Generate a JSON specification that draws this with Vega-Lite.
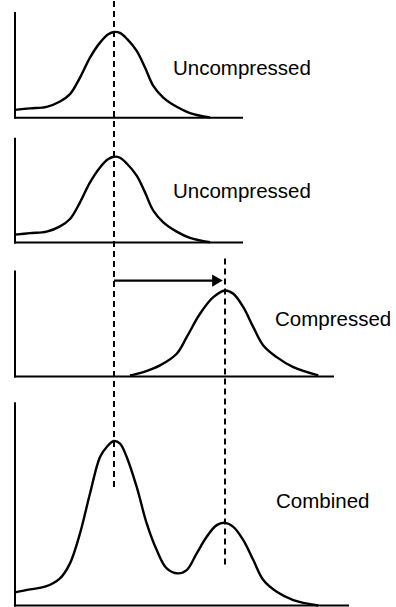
{
  "$schema": "https://vega.github.io/schema/vega-lite/v6.json",
  "width": 396,
  "height": 607,
  "autosize": {"type": "fit", "contains": "padding"},
  "padding": 0,
  "background": "white",
  "config": {"view": {"stroke": null}, "axis": {"disable": true}},
  "datasets": {
    "curves": [
      {"c": "p1", "x": 0, "y": 4.98}, {"c": "p1", "x": 0.75, "y": 4.995}, {"c": "p1", "x": 1.585, "y": 5.01}, {"c": "p1", "x": 2.25, "y": 5.063}, {"c": "p1", "x": 2.75, "y": 5.137}, {"c": "p1", "x": 3.25, "y": 5.303}, {"c": "p1", "x": 3.75, "y": 5.503}, {"c": "p1", "x": 4.25, "y": 5.653}, {"c": "p1", "x": 4.665, "y": 5.737}, {"c": "p1", "x": 4.95, "y": 5.76}, {"c": "p1", "x": 5.25, "y": 5.75}, {"c": "p1", "x": 5.6, "y": 5.69}, {"c": "p1", "x": 6.085, "y": 5.57}, {"c": "p1", "x": 6.5, "y": 5.403}, {"c": "p1", "x": 6.915, "y": 5.22}, {"c": "p1", "x": 7.415, "y": 5.103}, {"c": "p1", "x": 8.085, "y": 5.01}, {"c": "p1", "x": 8.75, "y": 4.947}, {"c": "p1", "x": 9.75, "y": 4.903},
      {"c": "p2", "x": 0, "y": 3.73}, {"c": "p2", "x": 0.75, "y": 3.745}, {"c": "p2", "x": 1.585, "y": 3.76}, {"c": "p2", "x": 2.25, "y": 3.813}, {"c": "p2", "x": 2.75, "y": 3.887}, {"c": "p2", "x": 3.25, "y": 4.053}, {"c": "p2", "x": 3.75, "y": 4.253}, {"c": "p2", "x": 4.25, "y": 4.403}, {"c": "p2", "x": 4.665, "y": 4.487}, {"c": "p2", "x": 4.95, "y": 4.51}, {"c": "p2", "x": 5.25, "y": 4.5}, {"c": "p2", "x": 5.6, "y": 4.44}, {"c": "p2", "x": 6.085, "y": 4.32}, {"c": "p2", "x": 6.5, "y": 4.153}, {"c": "p2", "x": 6.915, "y": 3.97}, {"c": "p2", "x": 7.415, "y": 3.853}, {"c": "p2", "x": 8.085, "y": 3.76}, {"c": "p2", "x": 8.75, "y": 3.697}, {"c": "p2", "x": 9.75, "y": 3.653},
      {"c": "p3", "x": 5.75, "y": 2.32}, {"c": "p3", "x": 6.415, "y": 2.353}, {"c": "p3", "x": 7.25, "y": 2.42}, {"c": "p3", "x": 8.085, "y": 2.537}, {"c": "p3", "x": 8.585, "y": 2.703}, {"c": "p3", "x": 9.25, "y": 2.937}, {"c": "p3", "x": 9.915, "y": 3.103}, {"c": "p3", "x": 10.5, "y": 3.17}, {"c": "p3", "x": 10.915, "y": 3.137}, {"c": "p3", "x": 11.415, "y": 3.003}, {"c": "p3", "x": 11.915, "y": 2.803}, {"c": "p3", "x": 12.415, "y": 2.62}, {"c": "p3", "x": 13.085, "y": 2.503}, {"c": "p3", "x": 13.915, "y": 2.403}, {"c": "p3", "x": 15.165, "y": 2.32},
      {"c": "p4", "x": 0, "y": 0.147}, {"c": "p4", "x": 0.75, "y": 0.177}, {"c": "p4", "x": 1.5, "y": 0.203}, {"c": "p4", "x": 2.25, "y": 0.287}, {"c": "p4", "x": 2.75, "y": 0.437}, {"c": "p4", "x": 3.25, "y": 0.737}, {"c": "p4", "x": 3.75, "y": 1.137}, {"c": "p4", "x": 4.25, "y": 1.503}, {"c": "p4", "x": 4.585, "y": 1.603}, {"c": "p4", "x": 4.95, "y": 1.663}, {"c": "p4", "x": 5.25, "y": 1.637}, {"c": "p4", "x": 5.585, "y": 1.503}, {"c": "p4", "x": 6.085, "y": 1.203}, {"c": "p4", "x": 6.585, "y": 0.837}, {"c": "p4", "x": 7.085, "y": 0.57}, {"c": "p4", "x": 7.585, "y": 0.387}, {"c": "p4", "x": 8.135, "y": 0.337}, {"c": "p4", "x": 8.585, "y": 0.37}, {"c": "p4", "x": 9.085, "y": 0.537}, {"c": "p4", "x": 9.585, "y": 0.703}, {"c": "p4", "x": 10.085, "y": 0.82}, {"c": "p4", "x": 10.5, "y": 0.843}, {"c": "p4", "x": 10.915, "y": 0.803}, {"c": "p4", "x": 11.415, "y": 0.67}, {"c": "p4", "x": 11.915, "y": 0.47}, {"c": "p4", "x": 12.415, "y": 0.27}, {"c": "p4", "x": 13.085, "y": 0.153}, {"c": "p4", "x": 13.915, "y": 0.07}, {"c": "p4", "x": 15.165, "y": 0.015}
    ],
    "axes": [
      {"x": 0, "x2": 0, "y": 5.95, "y2": 4.9},
      {"x": 0, "x2": 11.35, "y": 4.9, "y2": 4.9},
      {"x": 0, "x2": 0, "y": 4.69, "y2": 3.65},
      {"x": 0, "x2": 11.35, "y": 3.65, "y2": 3.65},
      {"x": 0, "x2": 0, "y": 3.36, "y2": 2.31},
      {"x": 0, "x2": 15.9, "y": 2.31, "y2": 2.31},
      {"x": 0, "x2": 0, "y": 2.04, "y2": 0.015},
      {"x": 0, "x2": 16.65, "y": 0.015, "y2": 0.015}
    ],
    "guides": [
      {"x": 4.95, "y": 6.07, "y2": 1.2},
      {"x": 10.5, "y": 3.49, "y2": 0.42}
    ],
    "arrow": [
      {"x": 4.95, "x2": 10.1, "y": 3.27}
    ],
    "head": [
      {"x": 10.12, "y": 3.27}
    ],
    "labels": [
      {"x": 7.9, "y": 5.33, "t": "Uncompressed"},
      {"x": 7.9, "y": 4.1, "t": "Uncompressed"},
      {"x": 13.0, "y": 2.81, "t": "Compressed"},
      {"x": 13.05, "y": 0.99, "t": "Combined"}
    ]
  },
  "layer": [
    {
      "data": {"name": "axes"},
      "mark": {"type": "rule", "color": "black", "strokeWidth": 2, "strokeCap": "square"},
      "encoding": {
        "x": {"field": "x", "type": "quantitative", "scale": {"domain": [-0.75, 19.05], "nice": false, "zero": false}},
        "x2": {"field": "x2"},
        "y": {"field": "y", "type": "quantitative", "scale": {"domain": [0, 6.07], "nice": false, "zero": false}},
        "y2": {"field": "y2"}
      }
    },
    {
      "data": {"name": "guides"},
      "mark": {"type": "rule", "color": "black", "strokeWidth": 2, "strokeDash": [6, 4]},
      "encoding": {
        "x": {"field": "x", "type": "quantitative"},
        "y": {"field": "y", "type": "quantitative"},
        "y2": {"field": "y2"}
      }
    },
    {
      "data": {"name": "curves"},
      "mark": {"type": "line", "color": "black", "strokeWidth": 2.4, "interpolate": "catmull-rom", "strokeJoin": "round"},
      "encoding": {
        "x": {"field": "x", "type": "quantitative"},
        "y": {"field": "y", "type": "quantitative"},
        "detail": {"field": "c"}
      }
    },
    {
      "data": {"name": "arrow"},
      "mark": {"type": "rule", "color": "black", "strokeWidth": 2.2},
      "encoding": {
        "x": {"field": "x", "type": "quantitative"},
        "x2": {"field": "x2"},
        "y": {"field": "y", "type": "quantitative"}
      }
    },
    {
      "data": {"name": "head"},
      "mark": {"type": "point", "shape": "triangle-right", "filled": true, "color": "black", "size": 150, "opacity": 1},
      "encoding": {
        "x": {"field": "x", "type": "quantitative"},
        "y": {"field": "y", "type": "quantitative"}
      }
    },
    {
      "data": {"name": "labels"},
      "mark": {"type": "text", "align": "left", "baseline": "alphabetic", "font": "Liberation Sans", "fontSize": 20.5, "color": "black"},
      "encoding": {
        "x": {"field": "x", "type": "quantitative"},
        "y": {"field": "y", "type": "quantitative"},
        "text": {"field": "t"}
      }
    }
  ]
}
